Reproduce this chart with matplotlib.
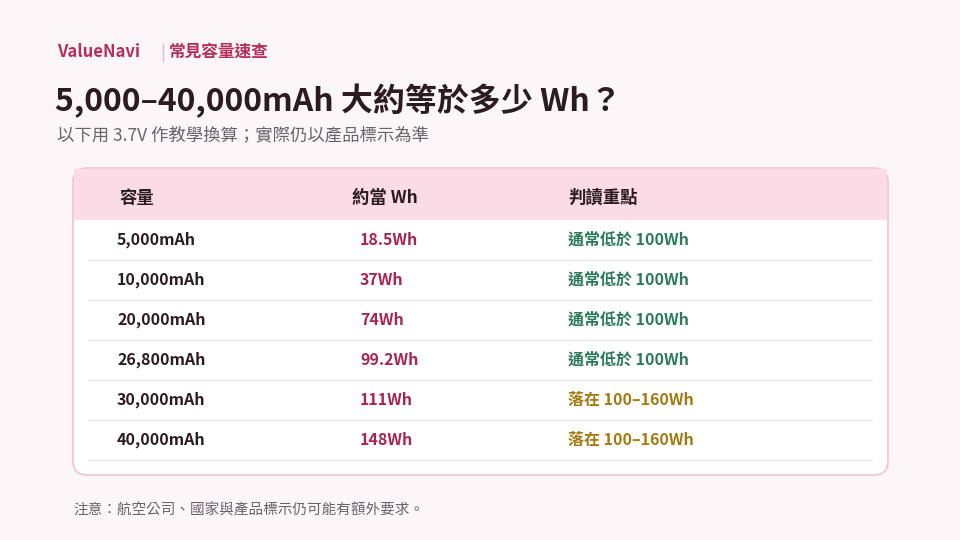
import matplotlib
matplotlib.use("Agg")
import matplotlib.pyplot as plt
from matplotlib.patches import FancyBboxPatch, Rectangle

plt.rcParams['font.family'] = ['Noto Sans CJK TC', 'DejaVu Sans']

headers = ["容量", "約當 Wh", "判讀重點"]
capacities = ["5,000mAh", "10,000mAh", "20,000mAh", "26,800mAh", "30,000mAh", "40,000mAh"]
wh_values = ["18.5Wh", "37Wh", "74Wh", "99.2Wh", "111Wh", "148Wh"]
notes = ["通常低於 100Wh", "通常低於 100Wh", "通常低於 100Wh", "通常低於 100Wh",
         "落在 100–160Wh", "落在 100–160Wh"]
note_kind = ["low", "low", "low", "low", "mid", "mid"]

fig = plt.figure(figsize=(9.6, 5.4), dpi=100)
fig.patch.set_facecolor("#fdf6f9")
ax = fig.add_axes([0, 0, 1, 1])
ax.set_xlim(0, 960); ax.set_ylim(540, 0); ax.axis("off")

ax.text(57, 52, "ValueNavi", color="#b3305a", fontsize=12, fontweight="bold", va="center")
ax.plot([162.5, 162.5], [44, 61], color="#e3b8c6", linewidth=1)
ax.text(169, 52, "常見容量速查", color="#b3305a", fontsize=12, fontweight="bold", va="center")
ax.text(55, 101, "5,000–40,000mAh 大約等於多少 Wh？", color="#2b1c22", fontsize=23,
        fontweight="bold", va="center")
ax.text(57, 135, "以下用 3.7V 作教學換算；實際仍以產品標示為準", color="#6b6368", fontsize=12.5, va="center")

card = FancyBboxPatch((73, 168), 815, 307, boxstyle="round,pad=0,rounding_size=14",
                      facecolor="white", edgecolor="#efc3d2", linewidth=1.2)
ax.add_patch(card)
ax.add_patch(Rectangle((74, 169), 813, 51, facecolor="#fadbe6", edgecolor="none"))

hx = [120, 352, 568]
for x, h in zip(hx, headers):
    ax.text(x, 198, h, fontsize=12.5, fontweight="bold", color="#2b1c22", va="center")

colors = {"low": "#2e7a5a", "mid": "#a37a10"}
for i, (c, w, n, k) in enumerate(zip(capacities, wh_values, notes, note_kind)):
    y = 240 + 40 * i
    ax.text(117, y, c, fontsize=11.5, fontweight="bold", color="#2b1c22", va="center")
    ax.text(360, y, w, fontsize=11.5, fontweight="bold", color="#a8254f", va="center")
    ax.text(568, y, n, fontsize=11.5, fontweight="bold", color=colors[k], va="center")
    ax.plot([88, 872], [y + 20, y + 20], color="#ebe6e8", linewidth=0.9)

ax.text(73, 510, "注意：航空公司、國家與產品標示仍可能有額外要求。", fontsize=10.5, color="#6b6368", va="center")

fig.savefig("out.png", dpi=100, facecolor=fig.get_facecolor())
